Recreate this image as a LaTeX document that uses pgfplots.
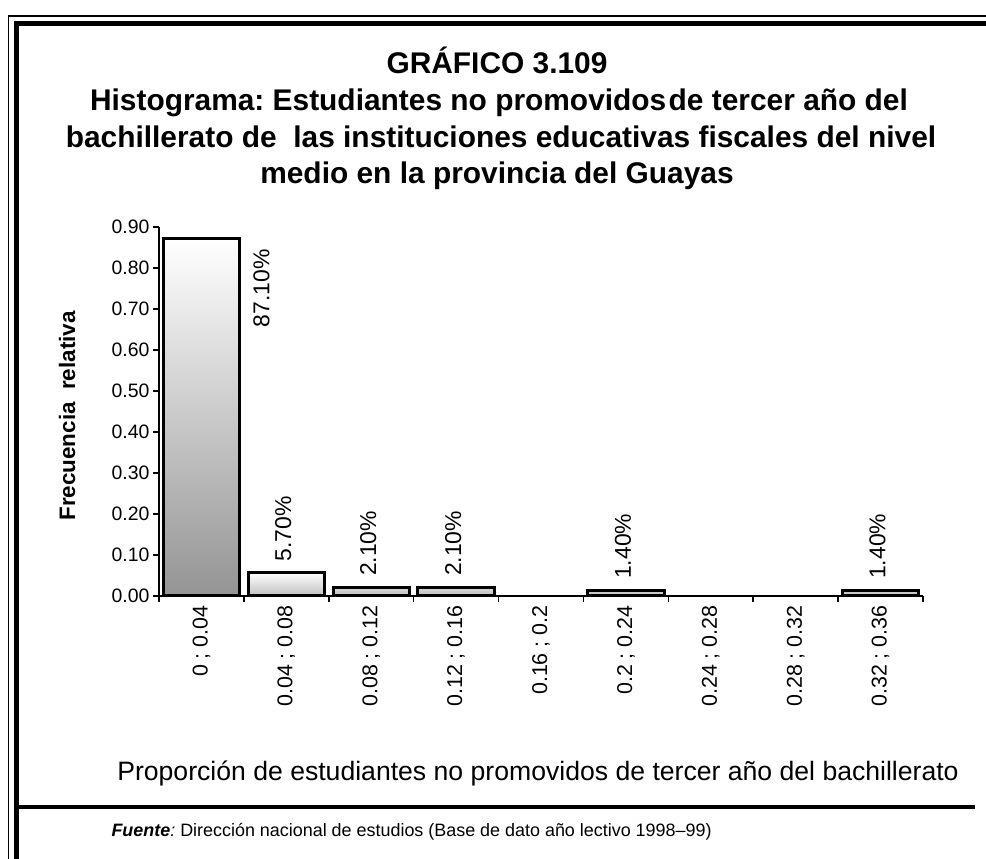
\documentclass[border=0pt]{standalone}
\usepackage{pgfplots}
\pgfplotsset{compat=1.18}
\usepackage{fontspec}
\setmainfont{Liberation Sans}
\frenchspacing

\begin{document}
\begin{tikzpicture}[x=1bp,y=1bp]
\useasboundingbox (0,0) rectangle (986,859);
% frame (top and left only, cut at the page edges)
\draw[line width=1.5bp] (8.5,0) -- (8.5,843) -- (986,843);
\draw[line width=5bp] (16,0) -- (16,835) -- (986,835);
\draw[line width=4.5bp] (16,52) -- (975,52);

% titles
\tikzset{ttl/.style={font=\fontsize{30}{32}\bfseries\selectfont, anchor=base, inner sep=0pt}}
\node[ttl] at (497,785) {GRÁFICO 3.109};
\node[ttl] at (499,748) {Histograma: Estudiantes no promovidos\hspace{0.08em}de tercer año del};
\node[ttl] at (501,711) {bachillerato de\ \ las instituciones educativas fiscales del nivel};
\node[ttl] at (497,675) {medio en la provincia del Guayas};

\node[font=\fontsize{22.5}{24}\bfseries\selectfont, rotate=90] at (67,443) {Frecuencia\ \ relativa};
\node[font=\fontsize{26.7}{28}\selectfont] at (538,86) {Proporción de estudiantes no promovidos de tercer año del bachillerato};
\node[font=\fontsize{18}{20}\selectfont, anchor=west] at (108,27) {\textbf{\textit{Fuente}}\textit{:} Dirección nacional de estudios (Base de dato año lectivo 1998–99)};

\begin{axis}[
  at={(159bp,263bp)}, anchor=south west,
  scale only axis, width=764bp, height=369bp,
  xmin=-0.5, xmax=8.5, ymin=0, ymax=0.9,
  axis x line*=bottom, axis y line*=left,
  axis line style={line width=1.5bp, -},
  tick align=outside, major tick length=6bp,
  tick style={line width=1.5bp, black},
  ytick={0,0.1,0.2,0.3,0.4,0.5,0.6,0.7,0.8,0.9},
  /pgf/number format/assume math mode=true,
  yticklabel={\pgfmathprintnumber[fixed, fixed zerofill, precision=2]{\tick}},
  yticklabel style={font=\fontsize{19.5}{21}\selectfont, anchor=east},
  xtick={-0.5,0.5,1.5,2.5,3.5,4.5,5.5,6.5,7.5,8.5},
  x tick label as interval,
  xticklabels={0 ; 0.04, 0.04 ; 0.08, 0.08 ; 0.12, 0.12 ; 0.16, 0.16 ; 0.2,
    0.2 ; 0.24, 0.24 ; 0.28, 0.28 ; 0.32, 0.32 ; 0.36},
  xticklabel style={font=\fontsize{21.5}{23}\selectfont, rotate=90, anchor=east},
  clip=false,
]
\addplot[ybar, bar width=0.9, bar shift=0pt, draw=black, line width=3bp,
  top color=white, bottom color=black!42,
  point meta=explicit symbolic, nodes near coords,
  every node near coord/.style={font=\fontsize{23}{25}\selectfont, text=black,
    xshift=60bp, yshift=-9bp, rotate=90, anchor=east, inner sep=0pt}]
  coordinates {(0,0.871) [87.10\%]};
\addplot[ybar, bar width=0.9, bar shift=0pt, draw=black, line width=3bp,
  top color=white, bottom color=black!25,
  point meta=explicit symbolic, nodes near coords,
  every node near coord/.style={font=\fontsize{23}{25}\selectfont, text=black,
    xshift=-3bp, yshift=10bp, rotate=90, anchor=west, inner sep=0pt}]
  coordinates {(1,0.057) [5.70\%] (2,0.021) [2.10\%] (3,0.021) [2.10\%]
    (5,0.014) [1.40\%] (8,0.014) [1.40\%]};
\end{axis}
\end{tikzpicture}
\end{document}
